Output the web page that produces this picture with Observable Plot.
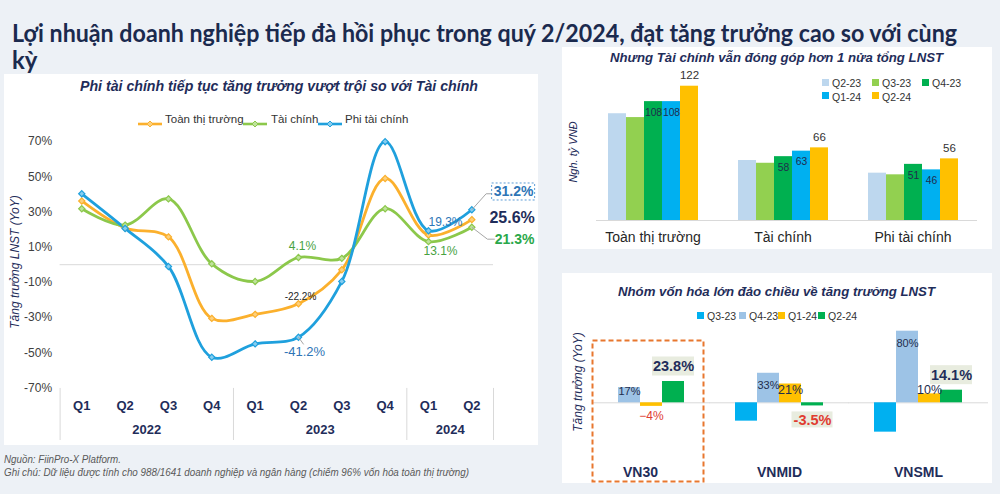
<!DOCTYPE html>
<html><head><meta charset="utf-8">
<script src="https://cdn.jsdelivr.net/npm/d3@7"></script>
<script src="https://cdn.jsdelivr.net/npm/@observablehq/plot@0.6"></script>
<style>
html,body{margin:0;padding:0;}
body{width:1000px;height:494px;overflow:hidden;background:#edf1f6;position:relative;font-family:"Liberation Sans",Arial,sans-serif;}
.panel{position:absolute;background:#fff;}
.holder{position:absolute;}
</style></head><body>
<script>
// ---------------- DATA ----------------
const quarters = ["Q1","Q2","Q3","Q4","Q1","Q2","Q3","Q4","Q1","Q2"];
const years = ["2022","2022","2022","2022","2023","2023","2023","2023","2024","2024"];
const yTicks = [-70,-50,-30,-10,10,30,50,70];
const toanThiTruong = [36.2, 20.8, 15.8, -30.5, -28.2, -22.2, -2.9, 49.0, 16.8, 25.6];
const taiChinh      = [31.8, 22.5, 37.4, 0.5, -9.5, 4.1, 3.6, 31.8, 13.1, 21.3];
const phiTaiChinh   = [40.3, 20.6, -1.0, -52.6, -45.0, -41.2, -9.5, 69.9, 19.3, 31.2];
const lineNames = ["Toàn thị trường","Tài chính","Phi tài chính"];
const lineColors = ["#fbb02d","#8cc84b","#1fa0dd"];
const lineFills = ["#fdd07c","#bfe29c","#86cdf0"];

const groupsTop = ["Toàn thị trường","Tài chính","Phi tài chính"];
const quartersTop = ["Q2-23","Q3-23","Q4-23","Q1-24","Q2-24"];
const topToan = [97, 93.5, 108, 108, 122];
const topTaiChinh = [54.5, 52, 58, 63, 66];
const topPhi = [43, 41.5, 51, 46, 56];
const topColors = ["#bdd7ee","#92d050","#00b050","#00b0f0","#ffc000"];

const groupsBottom = ["VN30","VNMID","VNSML"];
const quartersBottom = ["Q3-23","Q4-23","Q1-24","Q2-24"];
const botVN30 = [0, 17, -4, 23.8];
const botVNMID = [-20.5, 33, 21, -3.5];
const botVNSML = [-32.8, 80, 10, 14.1];
const botColors = ["#00b0f0","#9dc3e6","#ffc000","#00b050"];

// ---------------- helpers ----------------
const fits = [];
function addText(txt, x, y, css, fitW) {
  const d = document.createElement("div");
  d.style.cssText = `position:absolute;left:${x}px;top:${y}px;transform:translateY(-50%);white-space:nowrap;line-height:1.15;`;
  const s = document.createElement("span");
  s.textContent = txt;
  s.style.cssText = "display:inline-block;transform-origin:0 50%;" + css;
  d.appendChild(s); document.body.appendChild(d);
  if (fitW) fits.push([s, fitW]);
  return s;
}
function addRot(txt, cx, cy, css) {
  const d = document.createElement("div");
  d.style.cssText = `position:absolute;left:${cx}px;top:${cy}px;transform:translate(-50%,-50%) rotate(-90deg);white-space:nowrap;line-height:1;${css}`;
  d.textContent = txt; document.body.appendChild(d);
}
function addPanel(x, y, w, h) {
  const d = document.createElement("div"); d.className = "panel";
  d.style.cssText += `left:${x}px;top:${y}px;width:${w}px;height:${h}px;`;
  document.body.appendChild(d);
}
function addPlot(svg, x, y) {
  const d = document.createElement("div"); d.className = "holder";
  d.style.left = x + "px"; d.style.top = y + "px";
  d.appendChild(svg); document.body.appendChild(d);
}
function doFit() {
  for (const [s, w] of fits) {
    s.style.transform = "none";
    const n = s.getBoundingClientRect().width;
    s.style.transform = `scaleX(${w / n})`;
  }
}
const FONT = "Liberation Sans, Arial, sans-serif";
const NAVY = "#1f2d5a";
const pct1 = v => v.toFixed(1) + "%";

// ---------------- panels ----------------
addPanel(4, 74, 534, 371);
addPanel(562, 47, 430, 202);
addPanel(562, 273, 430, 210);

// ---------------- LEFT: line chart ----------------
const series = [toanThiTruong, taiChinh, phiTaiChinh];
const idx = d3.range(quarters.length);
const last = quarters.length - 1;
const yearGroups = d3.groups(idx, i => years[i]).map(([y, is]) => ({year: y, center: d3.mean(is), start: d3.min(is) - 0.5, end: d3.max(is) + 0.5}));
const separators = [yearGroups[0].start, ...yearGroups.map(g => g.end)];

const ann = [
  {i: 8, v: phiTaiChinh[8], dx: 17, dy: -8.5, fill: "#2e75b6", size: 12, w: "normal"},
  {i: 8, v: taiChinh[8], dx: 12, dy: 10, fill: "#48a23f", size: 12, w: "normal"},
  {i: 5, v: taiChinh[5], dx: 4, dy: -11, fill: "#48a23f", size: 12, w: "normal"},
  {i: 5, v: toanThiTruong[5], dx: 2, dy: -7, fill: "#262626", size: 10, w: "normal"},
  {i: 5, v: phiTaiChinh[5], dx: 6, dy: 15, fill: "#2e75b6", size: 13, w: "normal"},
  {i: last, v: phiTaiChinh[last], dx: 41.8, dy: -17.8, fill: "#2e75b6", size: 14, w: "bold"},
  {i: last, v: toanThiTruong[last], dx: 40.3, dy: -2, fill: NAVY, size: 16, w: "bold"},
  {i: last, v: taiChinh[last], dx: 42.8, dy: 12.3, fill: "#2aa84a", size: 14, w: "bold"}
];
const leaders = [
  {x1: last, y1: phiTaiChinh[last], x2: last + 0.33, y2: phiTaiChinh[last] + 9.1},
  {x1: last + 0.33, y1: phiTaiChinh[last] + 9.1, x2: last + 0.47, y2: phiTaiChinh[last] + 9.1},
  {x1: last, y1: taiChinh[last], x2: last + 0.36, y2: taiChinh[last] - 6.8},
  {x1: last + 0.36, y1: taiChinh[last] - 6.8, x2: last + 0.53, y2: taiChinh[last] - 6.8},
  {x1: 5, y1: phiTaiChinh[5], x2: 5.12, y2: phiTaiChinh[5] - 4.1}
];

const leftPlot = Plot.plot({
  width: 540, height: 371,
  marginLeft: 59.6, marginRight: 47, marginTop: 67, marginBottom: 57.6,
  style: {background: "transparent", fontFamily: FONT, overflow: "visible"},
  x: {domain: [-0.5, last + 0.5], axis: null},
  y: {domain: [-70, 70], axis: null},
  marks: [
    Plot.ruleY([0], {stroke: "#d9d9d9"}),
    Plot.ruleX(separators, {y1: -70.3, y2: -99.9, stroke: "#d9d9d9"}),
    Plot.axisY(yTicks, {tickFormat: d => d + "%", tickSize: 0, tickPadding: 8, fontSize: 12, fill: "#404040", label: null}),
    ...series.map((s, k) => Plot.line(s, {x: (d, i) => i, y: d => d, stroke: lineColors[k], strokeWidth: 2.8, curve: "catmull-rom"})),
    ...series.map((s, k) => Plot.dot(s, {x: (d, i) => i, y: d => d, symbol: "diamond2", r: 2.8, fill: lineFills[k], stroke: lineColors[k], strokeWidth: 1.2})),
    Plot.link(leaders, {x1: "x1", y1: "y1", x2: "x2", y2: "y2", stroke: "#a6a6a6", strokeWidth: 1}),
    Plot.rect([ann[5]], {x1: "i", x2: "i", y1: "v", y2: "v", dx: 41.8, dy: -17.8, insetLeft: -21.5, insetRight: -21.5, insetTop: -8.5, insetBottom: -8.5, fill: "white", stroke: "#5b9bd5", strokeDasharray: "2,2"}),
    ...ann.map(a => Plot.text([a], {x: "i", y: "v", text: d => pct1(d.v), dx: a.dx, dy: a.dy, fill: a.fill, fontSize: a.size, fontWeight: a.w})),
    Plot.text(idx, {x: i => i, text: i => quarters[i], frameAnchor: "bottom", dy: 17.6, lineAnchor: "middle", fontSize: 13, fontWeight: "bold", fill: NAVY}),
    Plot.text(yearGroups, {x: "center", text: "year", frameAnchor: "bottom", dy: 42, lineAnchor: "middle", fontSize: 13, fontWeight: "bold", fill: NAVY})
  ]
});
addPlot(leftPlot, 0, 74);

// legend (left)
{
  const xs = [[138, 165], [243, 271], [318, 345]];
  lineNames.forEach((n, k) => {
    const d = document.createElement("div");
    d.style.cssText = `position:absolute;left:${xs[k][0]}px;top:114px;width:24px;height:8px;`;
    d.innerHTML = `<svg width="24" height="8"><line x1="0" y1="4" x2="24" y2="4" stroke="${lineColors[k]}" stroke-width="2.6"/><path d="M12,1L15,4L12,7L9,4Z" fill="${lineFills[k]}" stroke="${lineColors[k]}" stroke-width="1"/></svg>`;
    document.body.appendChild(d);
    addText(n, xs[k][1], 118, "font-size:11.5px;color:#333;");
  });
}

// ---------------- TOP RIGHT: bars ----------------
const topSeries = [topToan, topTaiChinh, topPhi];
const barsTop = groupsTop.flatMap((g, gi) => quartersTop.map((q, qi) => ({g, q, v: topSeries[gi][qi]})));
const topPlot = Plot.plot({
  width: 430, height: 202,
  marginLeft: 44, marginRight: 34, marginTop: 18.9, marginBottom: 29,
  style: {background: "transparent", fontFamily: FONT, overflow: "visible"},
  fx: {domain: groupsTop, paddingInner: 0.3027, paddingOuter: 0, axis: null, label: null},
  x: {domain: quartersTop, padding: 0, axis: null},
  y: {domain: [0, 140], axis: null},
  color: {domain: quartersTop, range: topColors},
  marks: [
    Plot.barY(barsTop, {fx: "g", x: "q", y: "v", fill: "q"}),
    Plot.ruleY([{fx: groupsTop[0], y: 0}], {fx: "fx", y: "y", stroke: "#d9d9d9", insetLeft: -11, insetRight: -20.3}),
    Plot.ruleY([{fx: groupsTop[1], y: 0}], {fx: "fx", y: "y", stroke: "#d9d9d9", insetLeft: -20.3, insetRight: -20.3}),
    Plot.ruleY([{fx: groupsTop[2], y: 0}], {fx: "fx", y: "y", stroke: "#d9d9d9", insetLeft: -20.3, insetRight: -19}),
    Plot.text(barsTop.filter(d => d.q === "Q4-23" || d.q === "Q1-24"), {fx: "g", x: "q", y: "v", text: d => d3.format(".0f")(d.v), dy: 11, fontSize: 10.3, fill: "#1f2d4d"}),
    Plot.text(barsTop.filter(d => d.q === "Q2-24"), {fx: "g", x: "q", y: "v", text: d => d3.format(".0f")(d.v), dy: -11, fontSize: 11.5, fill: "#333"}),
    Plot.text(groupsTop, {fx: d => d, text: d => d, frameAnchor: "bottom", dy: 17, lineAnchor: "middle", fontSize: 14, fill: "#262626"})
  ]
});
addPlot(topPlot, 562, 47);
// legend top-right
quartersTop.forEach((q, i) => {
  const col = i % 3, row = Math.floor(i / 3);
  const x = 822 + col * 50, y = 82 + row * 13.5;
  const s = document.createElement("div");
  s.style.cssText = `position:absolute;left:${x}px;top:${y - 3.5}px;width:7px;height:7px;background:${topColors[i]};`;
  document.body.appendChild(s);
  addText(q, x + 10, y, "font-size:10.5px;color:#333;");
});

// ---------------- BOTTOM RIGHT: bars ----------------
const botSeries = [botVN30, botVNMID, botVNSML];
const barsBot = groupsBottom.flatMap((g, gi) => quartersBottom.map((q, qi) => ({g, q, v: botSeries[gi][qi]})));
const q4 = barsBot.filter(d => d.q === "Q4-23");
const q1 = barsBot.filter(d => d.q === "Q1-24");
const q2 = barsBot.filter(d => d.q === "Q2-24");
const fmt0 = d => d3.format(".0f")(d.v) + "%";
const botPlot = Plot.plot({
  width: 430, height: 212,
  marginLeft: 32, marginRight: 29, marginTop: 39.8, marginBottom: 29,
  style: {background: "transparent", fontFamily: FONT, overflow: "visible"},
  fx: {domain: groupsBottom, paddingInner: 0.3548, paddingOuter: 0, axis: null, label: null},
  x: {domain: quartersBottom, padding: 0, axis: null},
  y: {domain: [-60, 100], axis: null},
  color: {domain: quartersBottom, range: botColors},
  marks: [
    Plot.ruleY([{fx: groupsBottom[0], y: 0}], {fx: "fx", y: "y", stroke: "#d9d9d9", insetLeft: -2, insetRight: -24.8}),
    Plot.ruleY([{fx: groupsBottom[1], y: 0}], {fx: "fx", y: "y", stroke: "#d9d9d9", insetLeft: -24.8, insetRight: -24.8}),
    Plot.ruleY([{fx: groupsBottom[2], y: 0}], {fx: "fx", y: "y", stroke: "#d9d9d9", insetLeft: -24.8, insetRight: -25}),
    Plot.barY(barsBot, {fx: "g", x: "q", y: "v", fill: "q"}),
    Plot.frame({fx: [groupsBottom[0]], stroke: "#e8772e", strokeWidth: 2, strokeDasharray: "5,3", insetLeft: -3, insetRight: -18, insetTop: 27.2, insetBottom: -25}),
    // Q4-23: inside end
    Plot.text(q4.filter(d => d.v >= 25), {fx: "g", x: "q", y: "v", text: fmt0, dy: 12, fontSize: 11, fill: "#1f2d4d"}),
    Plot.text(q4.filter(d => d.v < 25), {fx: "g", x: "q", y: "v", text: fmt0, dy: 4, fontSize: 11, fill: "#1f2d4d"}),
    // Q1-24: inside base
    Plot.text(q1.filter(d => d.v >= 0), {fx: "g", x: "q", y: 0, text: fmt0, dy: -13.3, fontSize: 12.5, fill: "#1f2d4d"}),
    Plot.text(q1.filter(d => d.v < 0), {fx: "g", x: "q", y: 0, text: fmt0, dy: 13, fontSize: 12, fill: "#e03c31"}),
    // Q2-24: highlighted boxes
    Plot.barY(q2.filter(d => d.v >= 0), {fx: "g", x: "q", y1: "v", y2: "v", dy: -15, insetLeft: -10, insetRight: -10, insetTop: -9.5, insetBottom: -9.5, fill: "#e8ecdf"}),
    Plot.barY(q2.filter(d => d.v < 0), {fx: "g", x: "q", y1: "v", y2: "v", dy: 14, insetLeft: -9.5, insetRight: -9.5, insetTop: -8, insetBottom: -8, fill: "#e8ecdf"}),
    Plot.text(q2.filter(d => d.v >= 0), {fx: "g", x: "q", y: "v", text: d => pct1(d.v), dy: -15, fontSize: 14.5, fontWeight: "bold", fill: NAVY}),
    Plot.text(q2.filter(d => d.v < 0), {fx: "g", x: "q", y: "v", text: d => pct1(d.v), dy: 14, fontSize: 14.5, fontWeight: "bold", fill: "#e03c31"}),
    Plot.text(groupsBottom, {fx: d => d, text: d => d, frameAnchor: "bottom", dy: 15.7, lineAnchor: "middle", fontSize: 14, fontWeight: "bold", fill: NAVY})
  ]
});
addPlot(botPlot, 562, 273);
// legend bottom-right
{
  const xs = [697, 739, 778, 818];
  quartersBottom.forEach((q, i) => {
    const s = document.createElement("div");
    s.style.cssText = `position:absolute;left:${xs[i]}px;top:${315 - 3.5}px;width:7px;height:7px;background:${botColors[i]};`;
    document.body.appendChild(s);
    addText(q, xs[i] + 10, 315, "font-size:10.5px;color:#333;");
  });
}

// ---------------- TITLES & TEXT ----------------
addText("Lợi nhuận doanh nghiệp tiếp đà hồi phục trong quý 2/2024, đạt tăng trưởng cao so với cùng", 12, 33, "font-family:Lato,'Noto Sans',sans-serif;font-weight:700;font-size:24px;color:#1b2a4e;", 945);
addText("kỳ", 12, 60, "font-family:Lato,'Noto Sans',sans-serif;font-weight:700;font-size:24px;color:#1b2a4e;");
addText("Phi tài chính tiếp tục tăng trưởng vượt trội so với Tài chính", 80, 86, `font-weight:bold;font-style:italic;font-size:14px;color:${NAVY};`, 398);
addText("Nhưng Tài chính vẫn đóng góp hơn 1 nửa tổng LNST", 610, 57, `font-weight:bold;font-style:italic;font-size:13.5px;color:${NAVY};`, 333);
addText("Nhóm vốn hóa lớn đảo chiều về tăng trưởng LNST", 618, 291, `font-weight:bold;font-style:italic;font-size:13.5px;color:${NAVY};`, 317);
addRot("Tăng trưởng LNST (YoY)", 15, 262, `font-size:12px;font-style:italic;color:${NAVY};`);
addRot("Ngh. tỷ VNĐ", 573, 152, `font-size:11px;font-style:italic;color:${NAVY};`);
addRot("Tăng trưởng (YoY)", 578, 382, `font-size:12px;font-style:italic;color:${NAVY};`);
addText("Nguồn: FiinPro-X Platform.", 4, 458, "font-size:10.5px;font-style:italic;color:#595959;", 117);
addText("Ghi chú: Dữ liệu được tính cho 988/1641 doanh nghiệp và ngân hàng (chiếm 96% vốn hóa toàn thị trường)", 4, 471, "font-size:10.5px;font-style:italic;color:#595959;", 465);
doFit();
if (document.fonts && document.fonts.ready) document.fonts.ready.then(doFit);
</script>
</body></html>
